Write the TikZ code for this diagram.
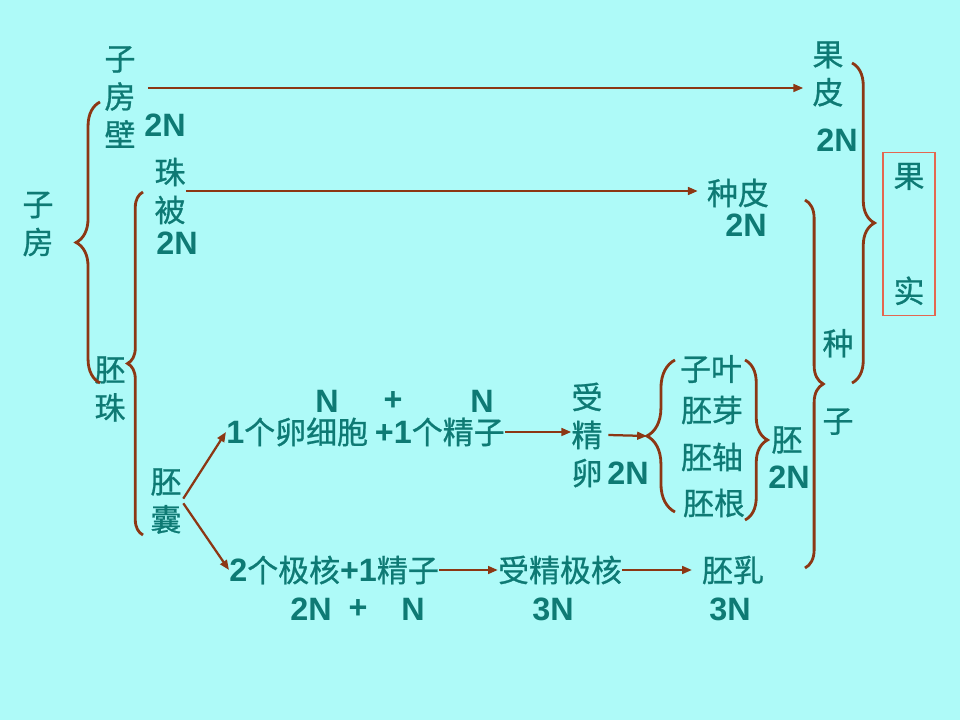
\documentclass[tikz,border=0pt]{standalone}
\usepackage{fontspec}
\setmainfont{Liberation Sans}
\newfontfamily\cjk[FakeBold=0.8]{Noto Sans CJK SC}
\usetikzlibrary{decorations.pathreplacing, arrows.meta, calc}
\definecolor{bgcyan}{RGB}{174,250,248}
\definecolor{tealtxt}{RGB}{14,122,116}
\definecolor{rust}{RGB}{140,55,20}
\definecolor{boxred}{RGB}{228,102,80}
\newcommand{\ploidy}[1]{{\normalfont\bfseries\fontsize{23}{27}\selectfont #1}}

\begin{document}
\begin{tikzpicture}[x=0.025cm, y=-0.025cm,
    word/.style={text=tealtxt, inner sep=0pt, align=center, font=\cjk\fontsize{22}{27}\selectfont},
    ploid/.style={text=tealtxt, inner sep=0pt, font=\bfseries\fontsize{23}{27}\selectfont},
    link/.style={rust, line width=1.6pt, -{Triangle[length=7pt, width=5.5pt]}},
    curly/.style={rust, line width=2pt, decorate, decoration={brace, amplitude=#1}}]

    % background
    \fill[bgcyan] (0,0) rectangle (960,720);
    \useasboundingbox (0,0) rectangle (960,720);

    % ovary and its parts
    \node[word] (zf) at (38,224) {子\\房};
    \node[word] (zfb) at (120,97) {子\\房\\壁};
    \node[ploid] (zfb-n) at (165,125) {2N};
    \node[word] (zb) at (170,191) {珠\\被};
    \node[ploid] (zb-n) at (177,243) {2N};
    \node[word] (pz) at (110,389) {胚\\珠};
    \node[word] (pn) at (166,501) {胚\\囊};

    % egg cell row
    \node[word, anchor=west] (egg) at (226,432) {\ploidy{1}个卵细胞 \ploidy{+1}个精子};
    \node[ploid] (egg-n1) at (327,401) {N};
    \node[ploid] (egg-p) at (393,401) {+};
    \node[ploid] (egg-n2) at (482,401) {N};
    \node[word] (sjl) at (587,435) {受\\精\\卵};
    \node[ploid] (sjl-n) at (628,473) {2N};

    % parts of the embryo
    \node[word] (zy) at (711,369) {子叶};
    \node[word] (py) at (712,410) {胚芽};
    \node[word] (pzh) at (712,457) {胚轴};
    \node[word] (pg) at (714,503) {胚根};
    \node[word] (pei) at (787,440) {胚};
    \node[ploid] (pei-n) at (789,477) {2N};

    % polar nuclei row
    \node[word, anchor=west] (jh) at (229,570) {\ploidy{2}个极核\ploidy{+1}精子};
    \node[ploid] (jh-n) at (311,609) {2N};
    \node[ploid] (jh-p) at (358,609) {+};
    \node[ploid] (jh-n2) at (413,609) {N};
    \node[word] (sjjh) at (560,570) {受精极核};
    \node[ploid] (sjjh-n) at (553,609) {3N};
    \node[word] (pr) at (733,570) {胚乳};
    \node[ploid] (pr-n) at (730,609) {3N};

    % fruit side
    \node[word] (gp) at (828,74) {果\\皮};
    \node[ploid] (gp-n) at (837,140) {2N};
    \node[word] (zp) at (738,193) {种皮};
    \node[ploid] (zp-n) at (746,225) {2N};
    \node[word] (zz) at (838,382) {种\\[28pt]子};
    \node[word, draw=boxred, line width=0.8pt, minimum width=1.3cm, minimum height=4.07cm] (gs) at (909,234) {果\\[55pt]实};

    % braces
    \draw[curly=17pt] (100,383) -- (100,102);
    \draw[curly=11pt] (143,535) -- (143,192);
    \draw[curly=20pt] (675,512) -- (675,360);
    \coordinate (emb-in) at (647,436);
    \draw[curly=16pt] (745,360) -- (745,520);
    \draw[curly=13pt] (805,200) -- (805,568);
    \draw[curly=16pt] (852,63) -- (852,383);

    % arrows
    \draw[link] ($(zfb.east)+(12,-9)$) -- ($(zfb.east -| gp.west)+(-9,-9)$);
    \draw[link] (zb.east) -- ($(zb.east -| zp.west)+(-9,0)$);
    \draw[link, shorten <=2pt] (pn.east) -- (egg.west);
    \draw[link, shorten <=2pt] (pn.east) -- (jh.west);
    \draw[link] (egg.east) -- (egg.east -| sjl.west);
    \draw[link] ([xshift=4pt]sjl.east) -- (emb-in);
    \draw[link] (jh.east) -- (sjjh.west);
    \draw[link, shorten >=7pt] (sjjh.east) -- (pr.west);
\end{tikzpicture}
\end{document}
